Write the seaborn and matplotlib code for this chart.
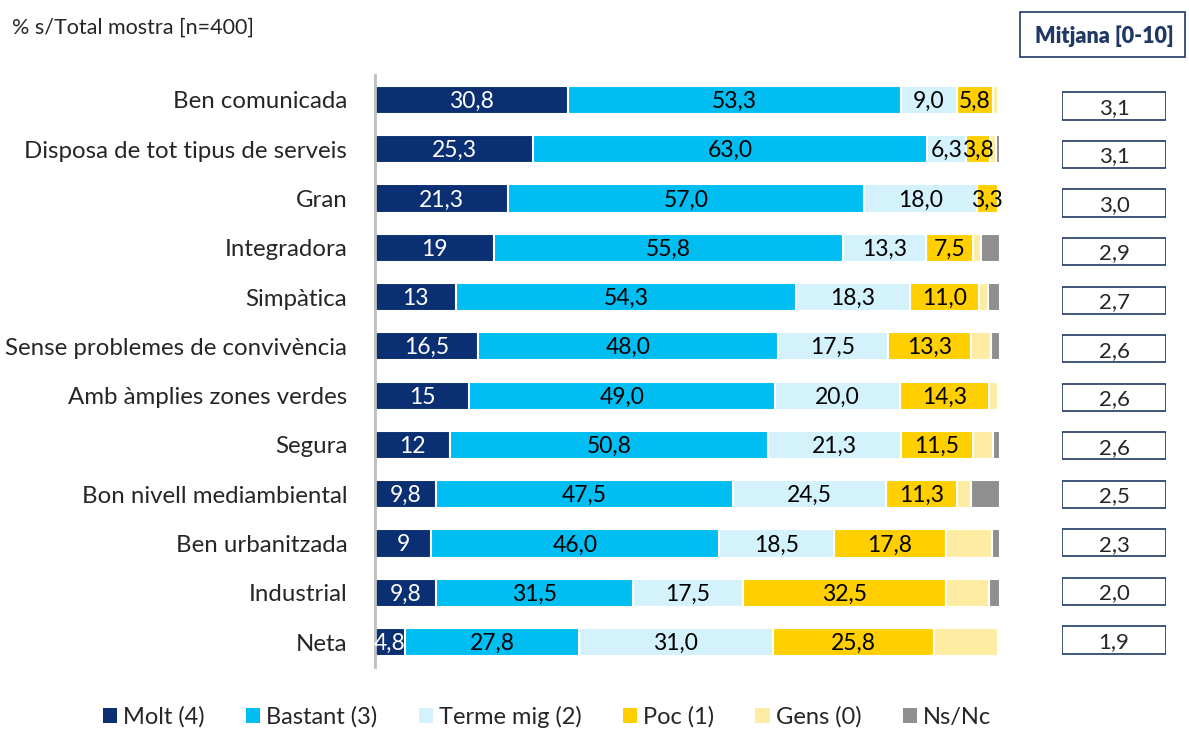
import pandas as pd
import seaborn as sns
import matplotlib.pyplot as plt
from matplotlib.patches import Patch, Rectangle

categories = ["Ben comunicada", "Disposa de tot tipus de serveis", "Gran", "Integradora",
              "Simpàtica", "Sense problemes de convivència", "Amb àmplies zones verdes",
              "Segura", "Bon nivell mediambiental", "Ben urbanitzada", "Industrial", "Neta"]
molt = [30.8, 25.3, 21.3, 19.0, 13.0, 16.5, 15.0, 12.0, 9.8, 9.0, 9.8, 4.8]
molt_labels = ["30,8", "25,3", "21,3", "19", "13", "16,5", "15", "12", "9,8", "9", "9,8", "4,8"]
bastant = [53.3, 63.0, 57.0, 55.8, 54.3, 48.0, 49.0, 50.8, 47.5, 46.0, 31.5, 27.8]
terme = [9.0, 6.3, 18.0, 13.3, 18.3, 17.5, 20.0, 21.3, 24.5, 18.5, 17.5, 31.0]
poc = [5.8, 3.8, 3.3, 7.5, 11.0, 13.3, 14.3, 11.5, 11.3, 17.8, 32.5, 25.8]
gens = [0.7, 1.0, 0.1, 1.3, 1.5, 3.3, 1.3, 3.2, 2.2, 7.4, 7.0, 10.3]
nsnc = [0.4, 0.6, 0.3, 3.1, 1.9, 1.4, 0.4, 1.2, 4.7, 1.3, 1.7, 0.3]
mitjana = ["3,1", "3,1", "3,0", "2,9", "2,7", "2,6", "2,6", "2,6", "2,5", "2,3", "2,0", "1,9"]

series = ["Molt (4)", "Bastant (3)", "Terme mig (2)", "Poc (1)", "Gens (0)", "Ns/Nc"]
colors = ["#0A2F73", "#00BDF2", "#D3F2FC", "#FFCF00", "#FFECA3", "#8F8F8F"]

df = pd.DataFrame({"cat": categories, series[0]: molt, series[1]: bastant,
                   series[2]: terme, series[3]: poc, series[4]: gens, series[5]: nsnc})
cum = df[series].cumsum(axis=1)

sns.set_style("white")
plt.rcParams["font.family"] = ["Lato", "DejaVu Sans"]

fig = plt.figure(figsize=(11.89, 7.31), dpi=100)
ax = fig.add_axes([0.3154, 0.088, 0.5257, 0.809])

# stacked bars: draw cumulative totals from the longest down
for s, c in reversed(list(zip(series, colors))):
    sns.barplot(x=cum[s], y=df["cat"], color=c, orient="h", width=0.57,
                saturation=1, edgecolor="white", linewidth=1.5, ax=ax)

# segment labels for the first four series
for i in range(len(categories)):
    left = 0
    for j, s in enumerate(series[:4]):
        v = df.loc[i, s]
        txt = molt_labels[i] if j == 0 else f"{v:.1f}".replace(".", ",")
        ax.text(left + v / 2, i + 0.03, txt, ha="center", va="center", fontsize=16.5,
                color="white" if j == 0 else "black")
        left += v

ax.set_xlim(0, 100)
ax.set_ylim(len(categories) - 0.5, -0.5)
ax.set_xlabel("")
ax.set_ylabel("")
ax.set_xticks([])
ax.tick_params(axis="y", length=0, pad=20, labelsize=17.3)
for sp in ["top", "right", "bottom"]:
    ax.spines[sp].set_visible(False)
ax.spines["left"].set_color("#BFBFBF")
ax.spines["left"].set_linewidth(2)

# mean boxes
axm = fig.add_axes([0.8932, 0.0913, 0.0875, 0.797])
axm.set_xlim(0, 1)
axm.set_ylim(len(categories) - 0.5, -0.5)
axm.axis("off")
for i, m in enumerate(mitjana):
    axm.add_patch(Rectangle((0, i - 0.28), 1, 0.56, facecolor="white",
                            edgecolor="#1F3864", linewidth=1.2))
    axm.text(0.5, i + 0.04, m, ha="center", va="center", fontsize=16)

fig.patches.append(Rectangle((1020 / 1189, 1 - 57 / 731), 165 / 1189, 45 / 731,
                             transform=fig.transFigure, facecolor="white",
                             edgecolor="#1F3864", linewidth=1.2))
fig.text(1104 / 1189, 1 - 36 / 731, "Mitjana [0-10]", ha="center", va="center",
         fontsize=15.5, fontweight="heavy", color="#1F3864")

fig.text(0.01, 1 - 28 / 731, "% s/Total mostra [n=400]", ha="left", va="center", fontsize=15.5)

handles = [Patch(facecolor=c, edgecolor="none") for c in colors]
fig.legend(handles, series, loc="lower center", bbox_to_anchor=(0.46, -0.025), ncol=6,
           frameon=False, fontsize=17, handlelength=0.6, handleheight=0.6,
           handletextpad=0.25, columnspacing=1.75)

fig.savefig("out.png", dpi=100)
